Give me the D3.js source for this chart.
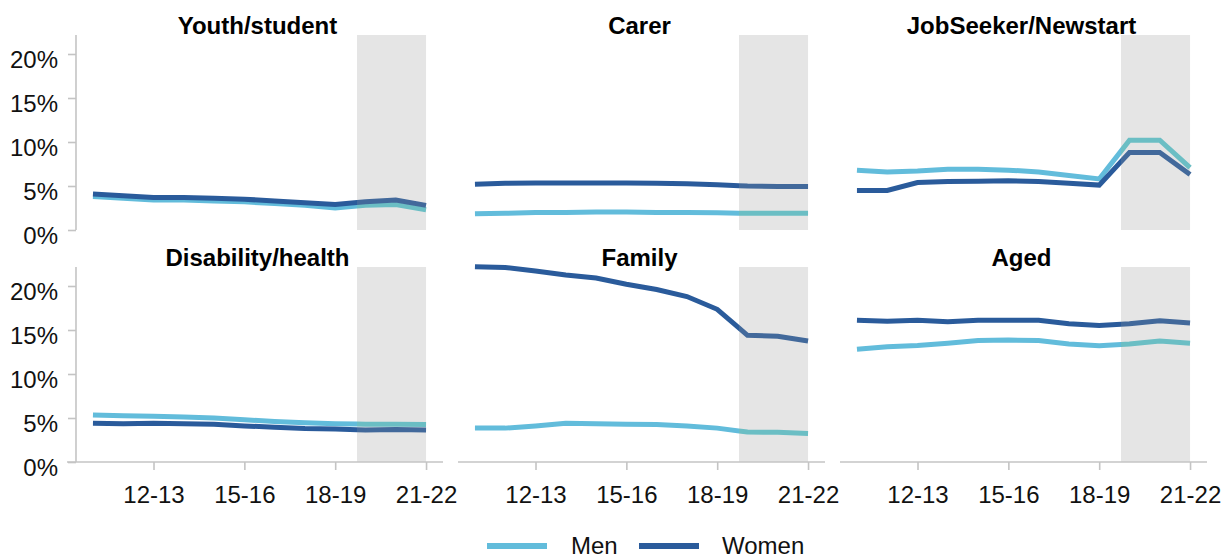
<!DOCTYPE html>
<html>
<head>
<meta charset="utf-8">
<script src="https://cdn.jsdelivr.net/npm/d3@7"></script>
<style>
  html, body { margin: 0; padding: 0; background: #fff; }
  svg { display: block; font-family: "Liberation Sans", Arial, sans-serif; }
</style>
</head>
<body>
<svg id="chart" width="1231" height="559"></svg>
<script>
// ---- data ----
const years = ["10-11","11-12","12-13","13-14","14-15","15-16","16-17","17-18","18-19","19-20","20-21","21-22"];
const tickYears = ["12-13","15-16","18-19","21-22"];
const yTicks = [0, 5, 10, 15, 20];
const panelTitles = ["Youth/student","Carer","JobSeeker/Newstart","Disability/health","Family","Aged"];
const seriesNames = ["Men","Women"];

const youthMen     = [3.8, 3.6, 3.4, 3.4, 3.3, 3.2, 3.0, 2.8, 2.5, 2.8, 2.9, 2.3];
const youthWomen   = [4.1, 3.9, 3.7, 3.7, 3.6, 3.5, 3.3, 3.1, 2.9, 3.2, 3.4, 2.8];
const carerMen     = [1.85, 1.9, 2.0, 2.0, 2.05, 2.05, 2.0, 2.0, 1.95, 1.9, 1.9, 1.9];
const carerWomen   = [5.2, 5.3, 5.35, 5.35, 5.35, 5.35, 5.3, 5.25, 5.15, 5.0, 4.95, 4.95];
const jobMen       = [6.8, 6.6, 6.7, 6.9, 6.9, 6.8, 6.6, 6.2, 5.8, 10.2, 10.2, 7.1];
const jobWomen     = [4.5, 4.5, 5.4, 5.5, 5.55, 5.6, 5.5, 5.3, 5.1, 8.8, 8.8, 6.3];
const disabMen     = [5.35, 5.25, 5.2, 5.1, 5.0, 4.8, 4.6, 4.45, 4.35, 4.3, 4.3, 4.25];
const disabWomen   = [4.4, 4.35, 4.4, 4.35, 4.3, 4.1, 3.95, 3.8, 3.75, 3.65, 3.7, 3.65];
const familyMen    = [3.85, 3.85, 4.1, 4.4, 4.35, 4.3, 4.25, 4.1, 3.85, 3.4, 3.38, 3.25];
const familyWomen  = [22.2, 22.1, 21.7, 21.25, 20.9, 20.2, 19.6, 18.8, 17.35, 14.4, 14.3, 13.75];
const agedMen      = [12.8, 13.1, 13.25, 13.5, 13.8, 13.85, 13.8, 13.4, 13.2, 13.4, 13.75, 13.5];
const agedWomen    = [16.1, 16.0, 16.1, 15.95, 16.1, 16.1, 16.1, 15.7, 15.5, 15.7, 16.05, 15.8];

const menSeries   = [youthMen, carerMen, jobMen, disabMen, familyMen, agedMen];
const womenSeries = [youthWomen, carerWomen, jobWomen, disabWomen, familyWomen, agedWomen];

// shaded (estimate) period: starts a little before 19-20
const shadeFromYear = "19-20";
const shadeToYear = "21-22";

// ---- style / layout ----
const colors = { Men: "#62bcdb", Women: "#2a5b9b" };
const shadeColors = { Men: "#6bbec4", Women: "#42699b" };
const axisColor = "#c4c4c4";
const fontSize = 24;

const panelW = 367, panelStepX = 382, firstLeft = 76;
const rowZero = [230, 462], plotTopOffset = 195; // 0% line y and plot height

const svg = d3.select("#chart");

panelTitles.forEach((title, i) => {
  const col = i % 3, row = Math.floor(i / 3);
  const left = firstLeft + col * panelStepX;
  const bottom = rowZero[row];
  const top = bottom - plotTopOffset;

  const x = d3.scalePoint().domain(years).range([left, left + panelW]).padding(0.56);
  const y = d3.scaleLinear().domain([0, 20]).range([bottom, bottom - 176]);

  const g = svg.append("g");

  // shaded period
  const shadeX0 = x(shadeFromYear) - 0.28 * x.step();
  const shadeX1 = x(shadeToYear);
  g.append("rect")
    .attr("x", shadeX0).attr("y", top)
    .attr("width", shadeX1 - shadeX0).attr("height", bottom - top)
    .attr("fill", "#e5e5e5");

  // clip paths
  const cidA = "clipA" + i, cidB = "clipB" + i;
  const defs = g.append("defs");
  defs.append("clipPath").attr("id", cidA).append("rect")
    .attr("x", left - 20).attr("y", top - 100).attr("width", shadeX0 - left + 20).attr("height", 500);
  defs.append("clipPath").attr("id", cidB).append("rect")
    .attr("x", shadeX0).attr("y", top - 100).attr("width", 100).attr("height", 500);

  // axes
  if (col === 0) {
    const yAxis = d3.axisLeft(y).tickValues(yTicks).tickSize(8).tickPadding(10).tickFormat(d => d + "%");
    const ga = g.append("g").attr("transform", `translate(${left},0)`).call(yAxis);
    ga.select(".domain").remove();
    ga.append("line").attr("x1", 0).attr("x2", 0).attr("y1", top).attr("y2", bottom)
      .attr("stroke", axisColor).attr("stroke-width", 1.6);
    ga.selectAll(".tick line").attr("stroke", axisColor).attr("stroke-width", 1.6);
    ga.selectAll(".tick text").attr("fill", "#111").attr("dy", "0.55em").style("font-size", fontSize + "px")
      .style("font-family", '"Liberation Sans", Arial, sans-serif');
  }
  if (row === 1) {
    const xAxis = d3.axisBottom(x).tickValues(tickYears).tickSize(8).tickPadding(16);
    const gx = g.append("g").attr("transform", `translate(0,${bottom})`).call(xAxis);
    gx.select(".domain").remove();
    gx.append("line").attr("x1", left - (col === 0 ? 9 : 0)).attr("x2", left + panelW).attr("y1", 0).attr("y2", 0)
      .attr("stroke", axisColor).attr("stroke-width", 1.6);
    gx.selectAll(".tick line").attr("stroke", axisColor).attr("stroke-width", 1.6);
    gx.selectAll(".tick text").attr("fill", "#111").style("font-size", fontSize + "px")
      .style("font-family", '"Liberation Sans", Arial, sans-serif');
  }

  // lines
  const line = d3.line().x((d, k) => x(years[k])).y(d => y(d));
  [["Men", menSeries[i]], ["Women", womenSeries[i]]].forEach(([name, vals]) => {
    g.append("path").datum(vals).attr("d", line)
      .attr("fill", "none").attr("stroke", colors[name]).attr("stroke-width", 5)
      .attr("clip-path", `url(#${cidA})`);
    g.append("path").datum(vals).attr("d", line)
      .attr("fill", "none").attr("stroke", shadeColors[name]).attr("stroke-width", 5)
      .attr("clip-path", `url(#${cidB})`);
  });

  // title
  g.append("text")
    .attr("x", left + panelW / 2 - 2).attr("y", top - 1)
    .attr("text-anchor", "middle")
    .attr("font-weight", "bold").attr("font-size", fontSize).attr("fill", "#000")
    .text(title);
});

// legend
const legend = svg.append("g");
const legendItems = [
  { name: seriesNames[0], x0: 487, tx: 571 },
  { name: seriesNames[1], x0: 639, tx: 722 }
];
legendItems.forEach(it => {
  legend.append("line").attr("x1", it.x0).attr("x2", it.x0 + 60).attr("y1", 546).attr("y2", 546)
    .attr("stroke", colors[it.name]).attr("stroke-width", 6);
  legend.append("text").attr("x", it.tx).attr("y", 554).attr("font-size", fontSize).attr("fill", "#111")
    .text(it.name);
});
</script>
</body>
</html>
